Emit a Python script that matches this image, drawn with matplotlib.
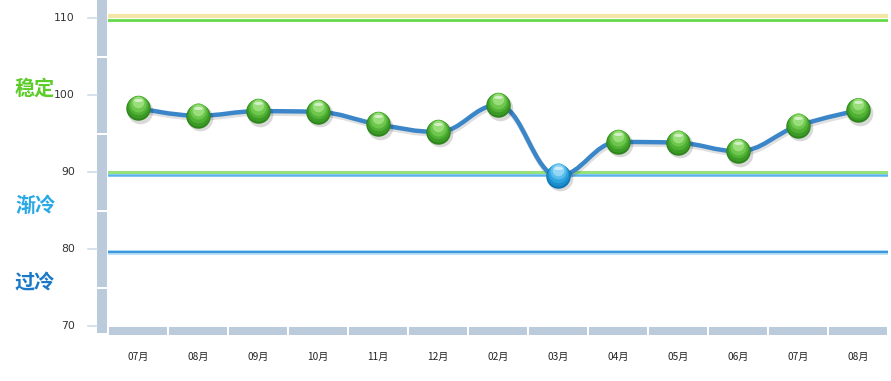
import matplotlib
matplotlib.use("Agg")
import matplotlib.pyplot as plt
from matplotlib.path import Path
from matplotlib.patches import PathPatch, Rectangle
from matplotlib.transforms import blended_transform_factory, ScaledTranslation, Affine2D

plt.rcParams["font.family"] = ["Noto Sans CJK SC", "DejaVu Sans"]

# data
months = ["07月", "08月", "09月", "10月", "11月", "12月", "02月",
          "03月", "04月", "05月", "06月", "07月", "08月"]
values = [98.3, 97.3, 97.9, 97.8, 96.2, 95.2, 98.7,
          89.5, 93.9, 93.8, 92.7, 96.0, 98.0]
y_ticks = [70, 80, 90, 100, 110]
zones = ["稳定", "渐冷", "过冷"]
zone_y = [100.9, 85.7, 75.6]
zone_colors = ["#5ccc2a", "#29a8e8", "#1a78c8"]
threshold = 90


def spline_path(xs, ys, smoothing=1.5):
    # Highcharts-like spline through the points
    denom = smoothing + 1
    n = len(xs)
    left = [None] * n
    right = [None] * n
    for i in range(1, n - 1):
        lx = (smoothing * xs[i] + xs[i - 1]) / denom
        ly = (smoothing * ys[i] + ys[i - 1]) / denom
        rx = (smoothing * xs[i] + xs[i + 1]) / denom
        ry = (smoothing * ys[i] + ys[i + 1]) / denom
        corr = (ry - ly) * (rx - xs[i]) / (rx - lx) + ys[i] - ry
        ly += corr
        ry += corr
        if ly > max(ys[i - 1], ys[i]):
            ly = max(ys[i - 1], ys[i]); ry = 2 * ys[i] - ly
        elif ly < min(ys[i - 1], ys[i]):
            ly = min(ys[i - 1], ys[i]); ry = 2 * ys[i] - ly
        if ry > max(ys[i + 1], ys[i]):
            ry = max(ys[i + 1], ys[i]); ly = 2 * ys[i] - ry
        elif ry < min(ys[i + 1], ys[i]):
            ry = min(ys[i + 1], ys[i]); ly = 2 * ys[i] - ry
        left[i] = (lx, ly)
        right[i] = (rx, ry)
    left[n - 1] = (xs[n - 1], ys[n - 1])
    right[0] = (xs[0], ys[0])
    verts = [(xs[0], ys[0])]
    codes = [Path.MOVETO]
    for i in range(1, n):
        verts += [right[i - 1], left[i], (xs[i], ys[i])]
        codes += [Path.CURVE4] * 3
    return Path(verts, codes)


fig = plt.figure(figsize=(8.91, 3.81), dpi=100)
ax = fig.add_axes([108 / 891, 1 - 326 / 381, 780 / 891, 326 / 381])
ax.set_xlim(-0.5, len(months) - 0.5)
ax.set_ylim(70, 70 + 326 / 7.7)
ax.axis("off")

band = "#bccbdb"
ytrans = blended_transform_factory(ax.transAxes, ax.transData)
xtrans = blended_transform_factory(ax.transData, ax.transAxes)
px = 1 / 780  # one pixel in axes fraction (x)

# vertical axis band, broken midway between ticks
edges = [69.0, 75, 85, 95, 105, 113]
for lo, hi in zip(edges[:-1], edges[1:]):
    ax.add_patch(Rectangle((-11 * px, lo + 0.12), 10 * px, hi - lo - 0.25,
                           transform=ytrans, color=band, clip_on=False, lw=0))
for t in y_ticks:
    ax.plot([-20 * px, -11 * px], [t, t], transform=ytrans, color="#d0dce8",
            lw=1.2, clip_on=False)
    ax.text(-33 * px, t, str(t), transform=ytrans, ha="right",
            va="center", fontsize=7.8, color="#333333", family="DejaVu Sans")

# horizontal band segments under each month
py = 1 / 326
for i, m in enumerate(months):
    ax.add_patch(Rectangle((i - 0.5 + 0.015, -9 * py), 0.97, 8 * py,
                           transform=xtrans, color=band, clip_on=False, lw=0))
    ax.text(i, -31 * py, m, transform=xtrans, ha="center", va="center",
            fontsize=7.3, color="#222222")

# threshold lines
ax.axhline(110.25, color="#f3e6a6", lw=3, zorder=1)
ax.axhline(109.8, color="#66d94a", lw=2, zorder=2)
ax.axhline(90.05, color="#95e27c", lw=2.2, zorder=2)
ax.axhline(89.65, color="#5ab4ec", lw=1.8, zorder=2)
ax.axhline(79.55, color="#b9e0f7", lw=3.5, zorder=1)
ax.axhline(79.55, color="#3f98dc", lw=1.6, zorder=2)

# zone labels
for name, y, c in zip(zones, zone_y, zone_colors):
    ax.text(-93 * px, y, name, transform=ytrans, ha="left", va="center",
            fontsize=14.5, color=c, fontweight="bold")

# smooth line with a faint shadow
xs = list(range(len(values)))
path = spline_path(xs, values)
shadow = PathPatch(path, fill=False, lw=4, ec="#000000", alpha=0.12,
                   transform=ax.transData + ScaledTranslation(1 / 100, -2 / 100, fig.dpi_scale_trans),
                   zorder=3, capstyle="round")
ax.add_patch(shadow)
ax.add_patch(PathPatch(path, fill=False, lw=3.2, ec="#3a86c8", zorder=4,
                       capstyle="round", joinstyle="round"))


# glossy ball markers: layered discs fake a vertical gradient
def off(dx, dy):
    return ax.transData + ScaledTranslation(dx / 100, dy / 100, fig.dpi_scale_trans)


flat = Path.unit_circle().transformed(Affine2D().scale(1.0, 0.35))
for x, v in zip(xs, values):
    if v < threshold:
        shades = ["#0d74b4", "#1a8dcc", "#2ea4df", "#58bdec", "#94d6f5"]
    else:
        shades = ["#2e851c", "#3c9a26", "#50b034", "#6cc74c", "#9ade7c"]
    ax.scatter([x], [v], s=340, color="#000000", alpha=0.15, lw=0, zorder=5,
               transform=off(2, -2.5))
    ax.scatter([x], [v], s=310, color=shades[0], lw=0, zorder=6)
    for k, (sz, c) in enumerate(zip([260, 200, 135, 70], shades[1:])):
        ax.scatter([x], [v], s=sz, color=c, lw=0, zorder=7 + k,
                   transform=off(0, 1.2 + 1.6 * k))
    ax.scatter([x], [v], s=40, color="white", alpha=0.55, lw=0, zorder=12,
               marker=flat, transform=off(0, 8))

fig.savefig("out.png", dpi=100)
